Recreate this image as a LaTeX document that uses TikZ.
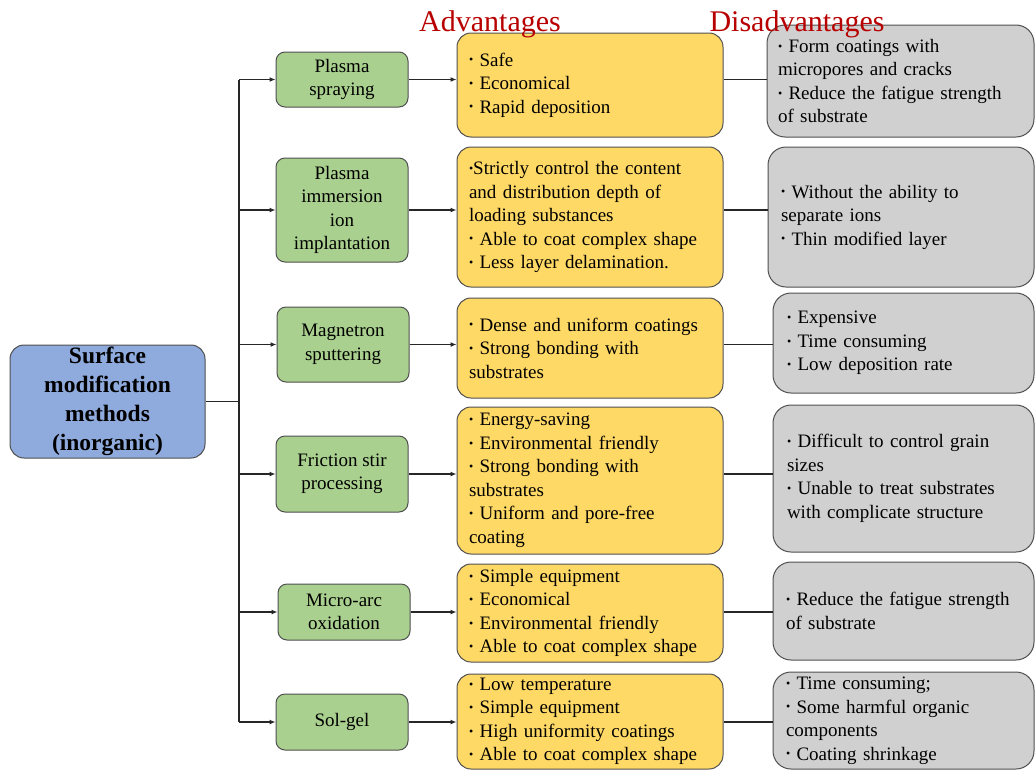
\documentclass[tikz,border=0pt]{standalone}
\usepackage{fontspec}
\setmainfont{Liberation Serif}
\usetikzlibrary{arrows.meta}
\definecolor{advY}{HTML}{FFD966}
\definecolor{disG}{HTML}{D0D0D0}
\definecolor{metG}{HTML}{A9D08E}
\definecolor{rootB}{HTML}{8FAADC}
\definecolor{bordC}{HTML}{505050}
\definecolor{hdrR}{HTML}{B80000}
\newcommand\bdot{\raisebox{2.2pt}{\fontsize{12}{12}\selectfont•}}
\begin{document}
\begin{tikzpicture}[x=1pt,y=-1pt,
  box/.style={draw=bordC, line width=1pt, inner sep=0pt,
    font=\fontsize{19}{23.5}\selectfont},
  greenbox/.style={box, fill=metG, minimum width=132pt, align=center, rounded corners=9pt},
  advbox/.style={box, fill=advY, minimum width=266pt, text width=242pt, align=left, rounded corners=14pt},
  disbox/.style={box, fill=disG, align=left, rounded corners=18pt},
  rootbox/.style={box, fill=rootB, minimum width=195pt, minimum height=113pt, align=center,
    rounded corners=14pt, font=\fontsize{23.5}{29}\selectfont\bfseries},
  hdr/.style={inner sep=0pt, text=hdrR, font=\fontsize{30}{32}\selectfont},
  conn/.style={line width=1.3pt, draw=black!85},
  arr/.style={conn, -{Latex[length=6pt,width=5pt]}}]
\useasboundingbox (0,0) rectangle (1035,771);

% root
\node[rootbox] (root) at (107.5,401.5) {Surface\\modification\\methods\\(inorganic)};

% methods
\node[greenbox, minimum height=55pt] (g1) at (342,79.5) {Plasma\\spraying};
\node[greenbox, minimum height=104pt] (g2) at (342,210) {Plasma\\immersion\\ion\\implantation};
\node[greenbox, minimum height=75pt] (g3) at (343,344.5) {Magnetron\\sputtering};
\node[greenbox, minimum height=76pt] (g4) at (342,474) {Friction stir\\processing};
\node[greenbox, minimum height=56pt] (g5) at (344,612) {Micro-arc\\oxidation};
\node[greenbox, minimum height=56pt] (g6) at (342,722) {Sol-gel};

% advantages
\node[advbox, minimum height=104pt] (y1) at (590,85) {\bdot\ Safe\\\bdot\ Economical\\\bdot\ Rapid deposition};
\node[advbox, minimum height=140pt] (y2) at (590,217) {\bdot Strictly control the content\\and distribution depth of\\loading substances\\\bdot\ Able to coat complex shape\\\bdot\ Less layer delamination.};
\node[advbox, minimum height=100pt] (y3) at (590,348) {\bdot\ Dense and uniform coatings\\\bdot\ Strong bonding with\\substrates};
\node[advbox, minimum height=147pt] (y4) at (590,480.5) {\bdot\ Energy-saving\\\bdot\ Environmental friendly\\\bdot\ Strong bonding with\\substrates\\\bdot\ Uniform and pore-free\\coating};
\node[advbox, minimum height=98pt] (y5) at (590,613) {\bdot\ Simple equipment\\\bdot\ Economical\\\bdot\ Environmental friendly\\\bdot\ Able to coat complex shape};
\node[advbox, minimum height=95pt] (y6) at (590,721.5) {\bdot\ Low temperature\\\bdot\ Simple equipment\\\bdot\ High uniformity coatings\\\bdot\ Able to coat complex shape};

% disadvantages
\node[disbox, minimum width=267pt, text width=245pt, minimum height=112pt] (d1) at (900.5,81) {\bdot\ Form coatings with\\micropores and cracks\\\bdot\ Reduce the fatigue strength\\of substrate};
\node[disbox, minimum width=266pt, text width=240pt, minimum height=140pt] (d2) at (901,217) {\bdot\ Without the ability to\\separate ions\\\bdot\ Thin modified layer};
\node[disbox, minimum width=261pt, text width=233pt, minimum height=100pt] (d3) at (903.5,343) {\bdot\ Expensive\\\bdot\ Time consuming\\\bdot\ Low deposition rate};
\node[disbox, minimum width=261pt, text width=233pt, minimum height=147pt] (d4) at (903.5,478.5) {\bdot\ Difficult to control grain\\sizes\\\bdot\ Unable to treat substrates\\with complicate structure};
\node[disbox, minimum width=261pt, text width=235pt, minimum height=98pt] (d5) at (903.5,611) {\bdot\ Reduce the fatigue strength\\of substrate};
\node[disbox, minimum width=261pt, text width=235pt, minimum height=97pt] (d6) at (903.5,720.5) {\bdot\ Time consuming;\\\bdot\ Some harmful organic\\components\\\bdot\ Coating shrinkage};

% trunk
\coordinate (trunk) at (239,0);
\draw[conn] (root.east) -- (root.east -| trunk);
\draw[conn] (trunk |- g1.west) -- (trunk |- g6.west);
\foreach \i in {1,...,6}{
  \draw[arr] (trunk |- g\i.west) -- (g\i.west);
  \draw[arr] (g\i.east) -- (g\i.east -| y\i.west);
  \draw[conn] (y\i.east |- g\i.east) -- (d\i.west |- g\i.east);
}

% headers
\node[hdr] (hA) at (490,24) {Advantages};
\node[hdr] (hD) at (797,24) {Disadvantages};
\end{tikzpicture}
\end{document}
